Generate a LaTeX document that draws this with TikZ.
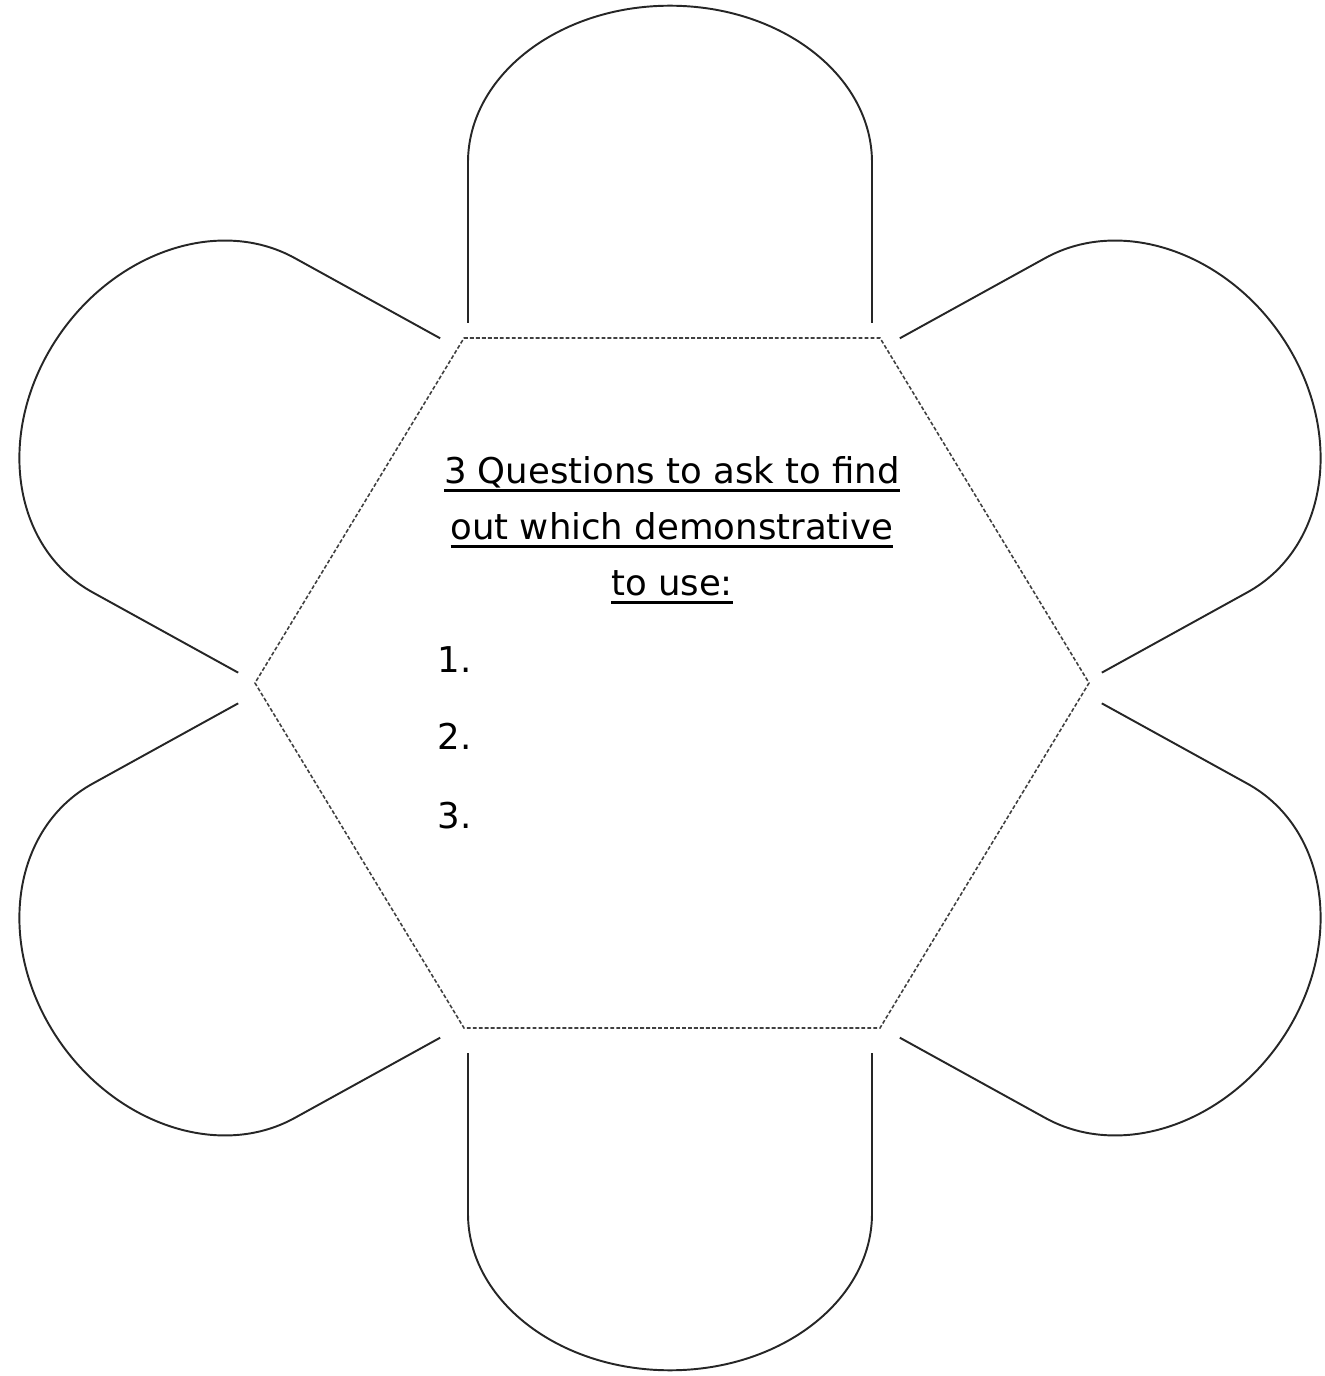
\documentclass[tikz,border=0pt]{standalone}
\usepackage{fontspec}
\setmainfont{DejaVu Sans}

% underline with a thick rule
\newcommand{\undl}[1]{\setbox0\hbox{#1}\rlap{\rule[-2.35pt]{\wd0}{0.85pt}}\box0}

\tikzset{
  petal/.style={line width=0.55pt, black!85},
  hexline/.style={line width=0.45pt, black!75, dash pattern=on 1.1pt off 0.6pt},
  label/.style={font=\fontsize{10.1}{15.94}\selectfont, inner sep=0pt},
}

\begin{document}
\begin{tikzpicture}[x=0.01cm, y=0.01cm]
  \useasboundingbox (-672,-693) rectangle (653,683);

  % Petals (one shape turned six times, squeezed a bit vertically)
  \begin{scope}[shift={(-2,-5)}, yscale=0.9556]
    \foreach \a in {0,60,...,300}
      \draw[petal, rotate=\a] (-202,382) -- (-202,550)
        arc[start angle=180, end angle=0, x radius=202, y radius=164] -- (202,382);
  \end{scope}

  % Centre hexagon
  \draw[hexline] (-208,345) -- (208,345) -- (417,0) -- (208,-345)
    -- (-208,-345) -- (-417,0) -- cycle;

  % Heading
  \node[label, align=center, anchor=north] (title) at (0,227)
    {\undl{3 Questions to ask to find}\\ \undl{out which demonstrative}\\ \undl{to use:}};

  % Numbered lines
  \node[label, anchor=base west] (q1) at (-235,10) {1.};
  \node[label, anchor=base west] (q2) at (-235,-67) {2.};
  \node[label, anchor=base west] (q3) at (-235,-145) {3.};
\end{tikzpicture}
\end{document}
